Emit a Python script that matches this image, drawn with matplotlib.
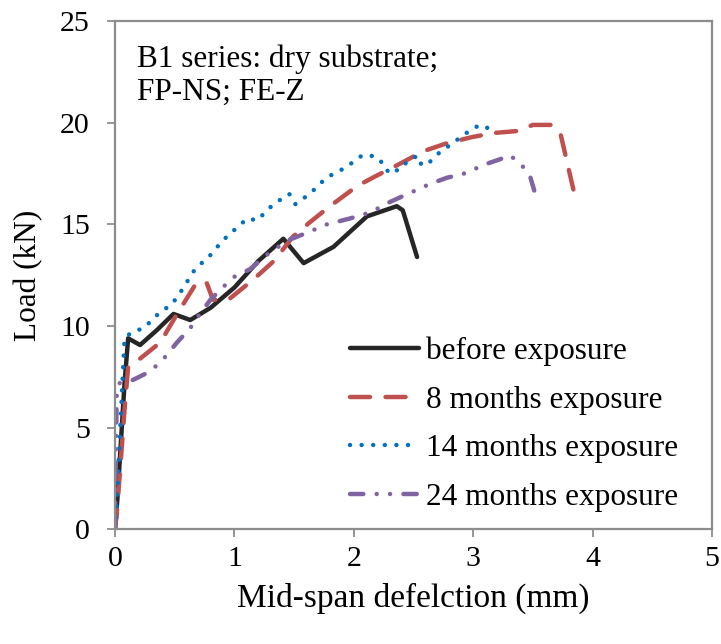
import matplotlib
matplotlib.use("Agg")
import matplotlib.pyplot as plt

plt.rcParams['font.family'] = ['Liberation Serif', 'DejaVu Serif']

# before exposure
x0 = [0.0, 0.02, 0.04, 0.08, 0.11, 0.21, 0.35, 0.49, 0.63, 0.8, 1.0, 1.2, 1.41, 1.58, 1.83, 2.11, 2.36, 2.41, 2.53]
y0 = [0.0, 1.5, 3.4, 7.2, 9.4, 9.07, 9.8, 10.6, 10.3, 10.9, 11.9, 13.2, 14.3, 13.1, 13.9, 15.4, 15.9, 15.7, 13.4]

# 8 months exposure
x8 = [0.0, 0.015, 0.05, 0.08, 0.11, 0.21, 0.38, 0.52, 0.69, 0.77, 0.82, 0.95, 1.16, 1.33, 1.49, 1.63, 1.8,
      2.03, 2.19, 2.39, 2.58, 2.78, 2.99, 3.17, 3.37, 3.5, 3.66, 3.73, 3.84]
y8 = [0.0, 0.8, 3.5, 5.9, 8.0, 8.4, 9.2, 10.6, 12.2, 12.1, 11.3, 11.3, 12.3, 13.2, 14.4, 15.1, 15.9,
      16.9, 17.4, 18.0, 18.6, 19.0, 19.3, 19.5, 19.6, 19.9, 19.9, 19.5, 16.7]

# 14 months exposure
x14 = [0.0, 0.01, 0.04, 0.07, 0.08, 0.14, 0.24, 0.38, 0.46, 0.52, 0.67, 0.8, 0.9, 1.05, 1.11, 1.19, 1.31,
       1.38, 1.46, 1.51, 1.63, 1.77, 1.93, 2.07, 2.14, 2.22, 2.26, 2.34, 2.39, 2.47, 2.53, 2.57, 2.64,
       2.71, 2.78, 2.85, 2.92, 2.99, 3.06, 3.14]
y14 = [0.0, 0.6, 4.5, 8.2, 9.4, 9.7, 9.9, 10.7, 11.0, 11.4, 12.8, 13.5, 14.2, 15.0, 15.3, 15.2, 15.9,
       16.2, 16.5, 16.0, 16.5, 17.3, 17.8, 18.4, 18.4, 18.2, 17.7, 17.5, 17.9, 18.1, 18.4, 17.9, 18.1,
       18.5, 18.8, 19.1, 19.4, 19.7, 19.9, 19.7]

# 24 months exposure
x24 = [0.0, 0.005, 0.015, 0.04, 0.15, 0.27, 0.38, 0.52, 0.63, 0.71, 0.8, 0.85, 0.99, 1.13, 1.27, 1.44,
       1.61, 1.77, 1.97, 2.14, 2.3, 2.45, 2.64, 2.78, 2.92, 3.0, 3.12, 3.22, 3.31, 3.41, 3.48, 3.53]
y24 = [0.0, 3.0, 6.9, 7.2, 7.35, 7.7, 8.2, 9.2, 9.9, 10.6, 11.3, 11.6, 12.4, 12.8, 13.5, 14.2,
       14.6, 15.0, 15.3, 15.6, 16.1, 16.5, 17.0, 17.3, 17.5, 17.7, 18.0, 18.2, 18.4, 17.9, 17.3, 16.3]

labels = ['before exposure', '8 months exposure', '14 months exposure', '24 months exposure']
xticks = [0, 1, 2, 3, 4, 5]
yticks = [0, 5, 10, 15, 20, 25]

fig = plt.figure(figsize=(7.21, 6.44), dpi=100)
ax = fig.add_axes([0.1595, 0.178, 0.828, 0.789])

ax.plot(x0, y0, color='#262626', lw=3.2, solid_capstyle='round', label=labels[0])
ax.plot(x8, y8, color='#C0504D', lw=3.2, dashes=(4.5, 3.5), dash_capstyle='round', label=labels[1])
ax.plot(x14, y14, color='#0070C0', lw=3.2, dashes=(0.01, 2.6), dash_capstyle='round', label=labels[2])
ax.plot(x24, y24, color='#8064A2', lw=3.2, dashes=(3.0, 3.0, 0.01, 3.0, 0.01, 3.0), dash_capstyle='round',
        label=labels[3])

ax.set_xlim(0, 5)
ax.set_ylim(0, 25)
ax.set_xticks(xticks)
ax.set_yticks(yticks)
for s in ax.spines.values():
    s.set_color('#8c8c8c')
    s.set_linewidth(1.6)
ax.tick_params(axis='both', direction='out', length=6, width=1.3, color='#8c8c8c',
               labelsize=21.5)
ax.tick_params(axis='x', pad=6)
ax.tick_params(axis='y', pad=12)
ax.set_xlabel('Mid-span defelction (mm)', fontsize=24, labelpad=8)
ax.set_ylabel('Load (kN)', fontsize=22.5, labelpad=12)

ax.text(0.037, 0.955, 'B1 series: dry substrate;\nFP-NS; FE-Z', transform=ax.transAxes,
        fontsize=22.5, va='top', ha='left', linespacing=1.2)

leg = ax.legend(loc='lower right', bbox_to_anchor=(0.99, -0.021), frameon=False, fontsize=22.5,
                handlelength=2.2, handletextpad=0.22, labelspacing=0.63)

fig.savefig('out.png', dpi=100)
